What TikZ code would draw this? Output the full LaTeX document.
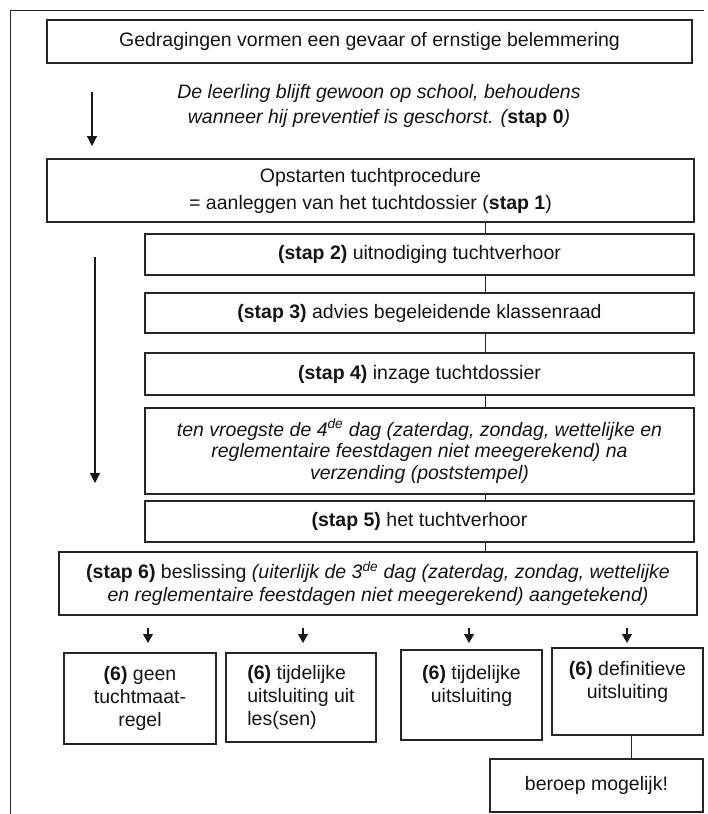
\documentclass[tikz,border=0pt]{standalone}
\usepackage{fontspec}
\setmainfont{Liberation Sans}
\usetikzlibrary{arrows.meta}
\begin{document}
\begin{tikzpicture}[x=1pt,y=-1pt,
  txt/.style={font=\fontsize{19.5}{23}\selectfont, text=black!92},
  ittxt/.style={font=\fontsize{19.5}{23}\selectfont\itshape, text=black!92},
  box/.style={draw=black!85, line width=1.1pt, align=center, inner sep=0pt},
  link/.style={draw=black!85, line width=1pt},
  arr/.style={draw=black!90, line width=1.1pt, -{Triangle[length=10pt,width=10pt]}},
  sarr/.style={draw=black!90, line width=1.1pt, -{Triangle[length=9pt,width=10pt]}},
]
\useasboundingbox (0,0) rectangle (707,814);
% outer frame
\coordinate (fr1) at (704,10);
\coordinate (fr2) at (10,10);
\coordinate (fr3) at (10,814);
\draw[link] (fr1) -- (fr2) -- (fr3);

\node[box, txt, minimum width=645pt, minimum height=43pt] (b1) at (369.5,41.5)
  {Gedragingen vormen een gevaar of ernstige belemmering};
\node[ittxt, font=\fontsize{19.5}{25}\selectfont\itshape, align=center, inner sep=0pt] (s0) at (379,105.5)
  {De leerling blijft gewoon op school, behoudens\\wanneer hij preventief is geschorst. (\textbf{\upshape stap 0})};
\coordinate (a0s) at (92,92);
\coordinate (a0e) at (92,146);
\draw[arr] (a0s) -- (a0e);

\node[box, txt, font=\fontsize{19.5}{27}\selectfont, minimum width=647pt, minimum height=63pt] (s1) at (370.5,190.5)
  {Opstarten tuchtprocedure\\= aanleggen van het tuchtdossier (\textbf{stap 1})};
\node[box, txt, minimum width=549pt, minimum height=41pt] (s2) at (419.5,254.5)
  {\textbf{(stap 2)} uitnodiging tuchtverhoor};
\node[box, txt, minimum width=549pt, minimum height=40pt] (s3) at (419.5,313)
  {\textbf{(stap 3)} advies begeleidende klassenraad};
\node[box, txt, minimum width=549pt, minimum height=42pt] (s4) at (419.5,374)
  {\textbf{(stap 4)} inzage tuchtdossier};
\node[box, ittxt, font=\fontsize{19.5}{21.5}\selectfont\itshape, minimum width=549pt, minimum height=86pt] (tv) at (419.5,451)
  {ten vroegste de 4\textsuperscript{de} dag (zaterdag, zondag, wettelijke en\\reglementaire feestdagen niet meegerekend) na\\verzending (poststempel)};
\node[box, txt, minimum width=549pt, minimum height=41pt] (s5) at (419.5,521.5)
  {\textbf{(stap 5)} het tuchtverhoor};
\node[box, txt, minimum width=638pt, minimum height=63pt] (s6) at (378,583.5)
  {\textbf{(stap 6)} beslissing \textit{(uiterlijk de 3\textsuperscript{de} dag (zaterdag, zondag, wettelijke}\\\textit{en reglementaire feestdagen niet meegerekend) aangetekend)}};

\coordinate (cx) at (485,0);
\draw[link] (s1.south -| cx) -- (s2.north -| cx);
\draw[link] (s2.south -| cx) -- (s3.north -| cx);
\draw[link] (s3.south -| cx) -- (s4.north -| cx);
\draw[link] (s4.south -| cx) -- (tv.north -| cx);
\draw[link] (tv.south -| cx) -- (s5.north -| cx);
\draw[link] (s5.south -| cx) -- (s6.north -| cx);

\coordinate (a1s) at (95,257);
\coordinate (a1e) at (95,483);
\draw[arr] (a1s) -- (a1e);

% small arrows
\foreach \i/\x in {1/148,2/303,3/469,4/627}{
  \coordinate (p\i s) at (\x,628);
  \coordinate (p\i e) at (\x,643);
  \draw[sarr] (p\i s) -- (p\i e);
}

\node[box, txt, minimum width=152pt, minimum height=91pt] (o1) at (140,698.5)
  {\textbf{(6)} geen\\tuchtmaat-\\regel};
\node[box, txt, align=left, minimum width=150pt, minimum height=89pt] (o2) at (301,697.5)
  {\textbf{(6)} tijdelijke\\uitsluiting uit\\les(sen)};
\node[box, txt, minimum width=141pt, minimum height=90pt] (o3) at (471.5,695)
  {\textbf{(6)} tijdelijke\\uitsluiting\\\mbox{}};
\node[box, txt, minimum width=151pt, minimum height=87pt] (o4) at (627.5,691.5)
  {\textbf{(6)} definitieve\\uitsluiting\\\mbox{}};
\node[box, txt, minimum width=213pt, minimum height=53pt] (ber) at (596.5,785.5)
  {beroep mogelijk!};
\coordinate (bx) at (631,0);
\draw[link] (o4.south -| bx) -- (ber.north -| bx);
\end{tikzpicture}
\end{document}
